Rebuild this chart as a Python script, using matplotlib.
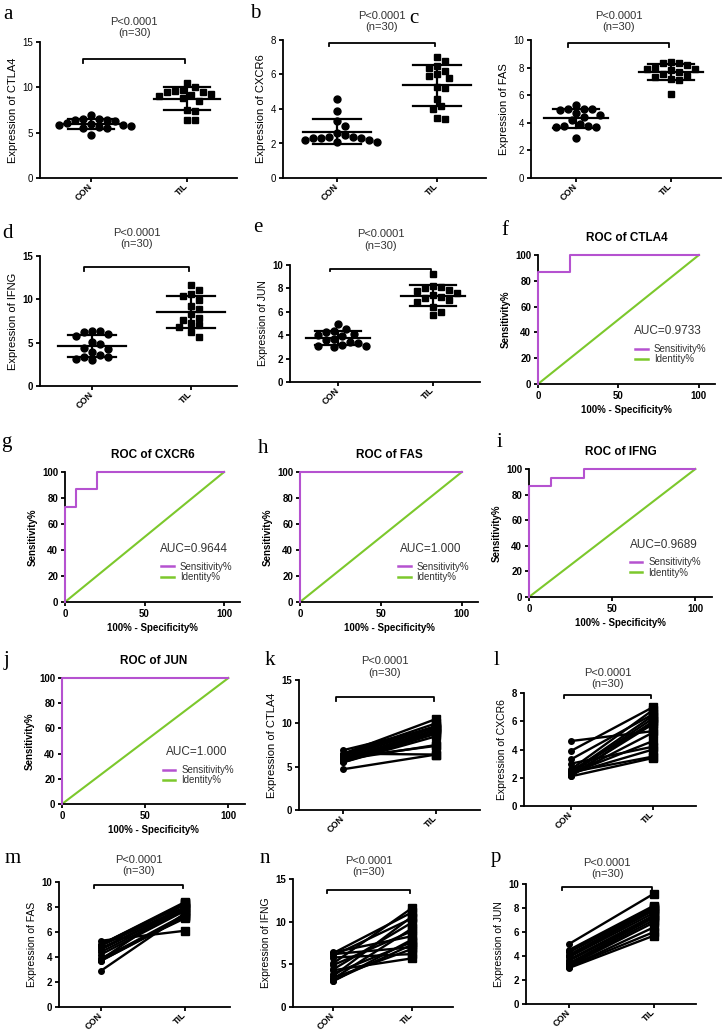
import numpy as np
import matplotlib
matplotlib.use('Agg')
import matplotlib.pyplot as plt
from matplotlib.lines import Line2D
from matplotlib.transforms import blended_transform_factory

plt.rcParams['font.family'] = ['Liberation Sans', 'DejaVu Sans']
plt.rcParams['axes.linewidth'] = 1.3

groups = ['CON', 'TIL']
p_label = 'P<0.0001\n(n=30)'

# expression values, 15 per group, paired by index (used for scatter and paired plots)
ctla4_con = [6.5, 6.4, 6.3, 6.4, 6.9, 6.1, 5.9, 5.7, 5.6, 5.5, 5.8, 6.0, 6.5, 4.7, 5.5]
ctla4_til = [10.5, 10.0, 9.7, 9.6, 9.5, 9.5, 9.3, 9.2, 9.0, 8.8, 7.5, 7.4, 6.4, 6.4, 8.5]
cxcr6_con = [4.6, 3.9, 3.3, 3.0, 2.6, 2.5, 2.4, 2.4, 2.3, 2.3, 2.2, 2.1, 2.1, 2.2, 2.3]
cxcr6_til = [5.3, 7.0, 6.5, 4.2, 6.8, 5.9, 3.5, 6.4, 4.6, 6.2, 5.2, 6.0, 3.4, 5.8, 4.0]
fas_con = [5.3, 5.0, 5.0, 5.0, 4.9, 4.7, 4.6, 4.4, 4.2, 3.9, 3.8, 3.7, 3.7, 3.8, 2.9]
fas_til = [6.1, 8.3, 8.4, 8.2, 8.0, 7.9, 7.9, 7.8, 7.7, 7.1, 7.4, 7.3, 7.2, 8.3, 7.5]
ifng_con = [6.4, 6.3, 6.2, 6.0, 5.8, 5.1, 4.9, 4.4, 4.3, 3.9, 3.6, 3.4, 3.3, 3.1, 3.0]
ifng_til = [8.3, 11.1, 7.0, 10.4, 6.2, 11.6, 8.9, 9.9, 5.7, 7.6, 10.6, 6.8, 9.2, 7.3, 7.9]
jun_con = [5.0, 4.5, 4.4, 4.3, 4.1, 4.0, 3.9, 3.7, 3.6, 3.4, 3.3, 3.2, 3.1, 3.1, 3.0]
jun_til = [9.2, 8.2, 8.1, 8.0, 7.9, 7.8, 7.6, 7.4, 7.3, 7.2, 7.0, 6.8, 6.4, 6.0, 5.7]

# ROC curves (100% - specificity%, sensitivity%)
roc_ctla4_fpr = [0, 0, 20, 20, 100]
roc_ctla4_tpr = [0, 86.67, 86.67, 100, 100]
roc_cxcr6_fpr = [0, 0, 6.67, 6.67, 20, 20, 100]
roc_cxcr6_tpr = [0, 73.33, 73.33, 86.67, 86.67, 100, 100]
roc_fas_fpr = [0, 0, 100]
roc_fas_tpr = [0, 100, 100]
roc_ifng_fpr = [0, 0, 13.33, 13.33, 33.33, 33.33, 100]
roc_ifng_tpr = [0, 86.67, 86.67, 93.33, 93.33, 100, 100]
roc_jun_fpr = [0, 0, 100]
roc_jun_tpr = [0, 100, 100]
auc_ctla4 = 'AUC=0.9733'
auc_cxcr6 = 'AUC=0.9644'
auc_fas = 'AUC=1.000'
auc_ifng = 'AUC=0.9689'
auc_jun = 'AUC=1.000'

purple = '#B552D0'
green = '#7CC82C'
txt_gray = '#333333'

W, H = 722, 1036
fig = plt.figure(figsize=(W / 100, H / 100), dpi=100)


def add_ax(L, T, R, B):
    ax = fig.add_axes([L / W, 1 - B / H, (R - L) / W, (B - T) / H])
    ax.spines['top'].set_visible(False)
    ax.spines['right'].set_visible(False)
    ax.tick_params(direction='out', length=3, width=1.3, pad=2)
    return ax


def letter(x, y, s):
    fig.text(x / W, 1 - y / H, s, family=['Liberation Serif', 'DejaVu Serif'],
             fontsize=15, va='baseline', ha='left')


def group_ax(L, T, R, B, c_px, t_px, ymax, ystep, gene, bold, label_fs):
    ax = add_ax(L, T, R, B)
    unit = t_px - c_px
    ax.set_xlim((L - c_px) / unit, (R - c_px) / unit)
    ax.set_ylim(0, ymax)
    ax.set_xticks([0, 1])
    ax.set_xticklabels(groups, rotation=45, ha='right', va='center',
                       rotation_mode='anchor', fontsize=6.5, fontweight='bold')
    ax.set_yticks(list(range(0, ymax + 1, ystep)))
    for t in ax.get_yticklabels():
        t.set_fontsize(7)
        t.set_fontweight('bold' if bold else 'normal')
    ax.set_ylabel('Expression of ' + gene, fontsize=label_fs, labelpad=3)
    return ax


def bracket(ax, yb, text_y_px):
    tick = ax.get_ylim()[1] * 0.025
    ax.plot([-0.08, -0.08, 0.98, 0.98], [yb - tick, yb, yb, yb - tick],
            color='k', lw=1.3, clip_on=False)
    tr = blended_transform_factory(ax.transData, fig.transFigure)
    ax.text(0.45, 1 - text_y_px / H, p_label, transform=tr, ha='center',
            va='center', fontsize=8, color=txt_gray, linespacing=1.15)


def swarm_offsets(ax, vals, d_px):
    # simple beeswarm in pixel space so the markers do not overlap
    vals = np.asarray(vals)
    ypx = ax.transData.transform(np.column_stack([np.zeros(len(vals)), vals]))[:, 1]
    unit_px = ax.transData.transform([[1, 0]])[0, 0] - ax.transData.transform([[0, 0]])[0, 0]
    cands = [0.0]
    for k in range(1, 20):
        cands += [k * d_px / 2, -k * d_px / 2]
    placed = []
    offs = np.zeros(len(vals))
    for i in np.argsort(-ypx):
        for c in cands:
            if all((c - px) ** 2 + (ypx[i] - py) ** 2 >= (0.95 * d_px) ** 2 for px, py in placed):
                break
        placed.append((c, ypx[i]))
        offs[i] = c / unit_px
    return offs


def scatter_panel(ax, con, til):
    for xc, vals, mk in [(0, con, 'o'), (1, til, 's')]:
        offs = swarm_offsets(ax, vals, 8)
        ax.plot(xc + offs, vals, mk, color='k', ms=5, ls='none')
        m = np.mean(vals)
        s = np.std(vals, ddof=1)
        ax.plot([xc - 0.34, xc + 0.34], [m, m], color='k', lw=1.6)
        ax.plot([xc - 0.24, xc + 0.24], [m + s, m + s], color='k', lw=1.6)
        ax.plot([xc - 0.24, xc + 0.24], [m - s, m - s], color='k', lw=1.6)
        ax.plot([xc, xc], [m - s, m + s], color='k', lw=1.6)


def paired_panel(ax, con, til):
    for a, b in zip(con, til):
        ax.plot([0, 1], [a, b], color='k', lw=1.7)
    ax.plot(np.zeros(len(con)), con, 'o', color='k', ms=4, ls='none')
    ax.plot(np.ones(len(til)), til, 's', color='k', ms=5.5, ls='none')


def roc_ax(L, T, R, B, gene, fpr, tpr, auc):
    ax = add_ax(L, T, R, B)
    ax.set_xlim(0, 110)
    ax.set_ylim(0, 100)
    ax.plot([0, 100], [0, 100], color=green, lw=1.5, clip_on=False)
    ax.plot(fpr, tpr, color=purple, lw=1.5, clip_on=False, zorder=3)
    ax.set_xticks([0, 50, 100])
    ax.set_yticks(list(range(0, 101, 20)))
    for t in ax.get_xticklabels() + ax.get_yticklabels():
        t.set_fontsize(7)
        t.set_fontweight('bold')
    ax.set_ylabel('Sensitivity%', fontsize=7, fontweight='bold', labelpad=3)
    ax.set_xlabel('100% - Specificity%', fontsize=7, fontweight='bold', labelpad=3)
    ax.set_title('ROC of ' + gene, fontsize=8.5, fontweight='bold', pad=10)
    ax.text(81, 41, auc, ha='center', va='center', fontsize=8.5, color=txt_gray)
    hs = [Line2D([], [], color=purple, lw=1.8), Line2D([], [], color=green, lw=1.8)]
    ax.legend(hs, ['Sensitivity%', 'Identity%'], loc='upper left',
              bbox_to_anchor=(0.55, 0.31), frameon=False, fontsize=7,
              handlelength=1.3, handletextpad=0.6, labelspacing=0.05,
              borderaxespad=0, borderpad=0, labelcolor=txt_gray)
    return ax


# top rows: scatter with mean +/- SD
ax = group_ax(40, 42, 237, 178, 91, 187, 15, 5, 'CTLA4', False, 8)
scatter_panel(ax, ctla4_con, ctla4_til)
bracket(ax, 13.1, 27.5)
ax = group_ax(283, 40, 486, 178, 337, 437, 8, 2, 'CXCR6', False, 8)
scatter_panel(ax, cxcr6_con, cxcr6_til)
bracket(ax, 7.83, 21.5)
ax = group_ax(531, 40, 721, 178, 576, 671, 10, 2, 'FAS', False, 8)
scatter_panel(ax, fas_con, fas_til)
bracket(ax, 9.75, 21.5)
ax = group_ax(40, 256, 237, 386, 92, 191, 15, 5, 'IFNG', True, 8)
scatter_panel(ax, ifng_con, ifng_til)
bracket(ax, 13.7, 238.5)
ax = group_ax(290, 265, 480, 382, 338, 433, 10, 2, 'JUN', True, 7.5)
scatter_panel(ax, jun_con, jun_til)
bracket(ax, 9.7, 240)

# ROC panels
roc_ax(538, 255, 715, 384, 'CTLA4', roc_ctla4_fpr, roc_ctla4_tpr, auc_ctla4)
roc_ax(65, 472, 240, 602, 'CXCR6', roc_cxcr6_fpr, roc_cxcr6_tpr, auc_cxcr6)
roc_ax(300, 472, 478, 602, 'FAS', roc_fas_fpr, roc_fas_tpr, auc_fas)
roc_ax(529, 469, 712, 597, 'IFNG', roc_ifng_fpr, roc_ifng_tpr, auc_ifng)
roc_ax(62, 678, 245, 804, 'JUN', roc_jun_fpr, roc_jun_tpr, auc_jun)

# paired plots
ax = group_ax(299, 680, 480, 810, 343, 436, 15, 5, 'CTLA4', True, 8)
paired_panel(ax, ctla4_con, ctla4_til)
bracket(ax, 13.0, 667)
ax = group_ax(524, 693, 696, 806, 571, 653, 8, 2, 'CXCR6', True, 7.5)
paired_panel(ax, cxcr6_con, cxcr6_til)
bracket(ax, 7.85, 678.5)
ax = group_ax(59, 882, 230, 1007, 101, 185, 10, 2, 'FAS', True, 7.5)
paired_panel(ax, fas_con, fas_til)
bracket(ax, 9.76, 865.5)
ax = group_ax(293, 879, 453, 1007, 333, 412, 15, 5, 'IFNG', True, 7.5)
paired_panel(ax, ifng_con, ifng_til)
bracket(ax, 13.7, 866.5)
ax = group_ax(526, 884, 696, 1004, 569, 654, 10, 2, 'JUN', True, 7.5)
paired_panel(ax, jun_con, jun_til)
bracket(ax, 9.75, 868.5)

# panel letters
for x, y, s in [(3, 19, 'a'), (250, 18, 'b'), (409, 23, 'c'),
                (2, 238, 'd'), (253, 232, 'e'), (501, 235, 'f'),
                (1, 447, 'g'), (258, 453, 'h'), (497, 447, 'i'),
                (4, 665, 'j'), (265, 665, 'k'), (494, 665, 'l'),
                (5, 863, 'm'), (260, 863, 'n'), (491, 862, 'p')]:
    letter(x, y, s)

fig.savefig('out.png', dpi=100)
